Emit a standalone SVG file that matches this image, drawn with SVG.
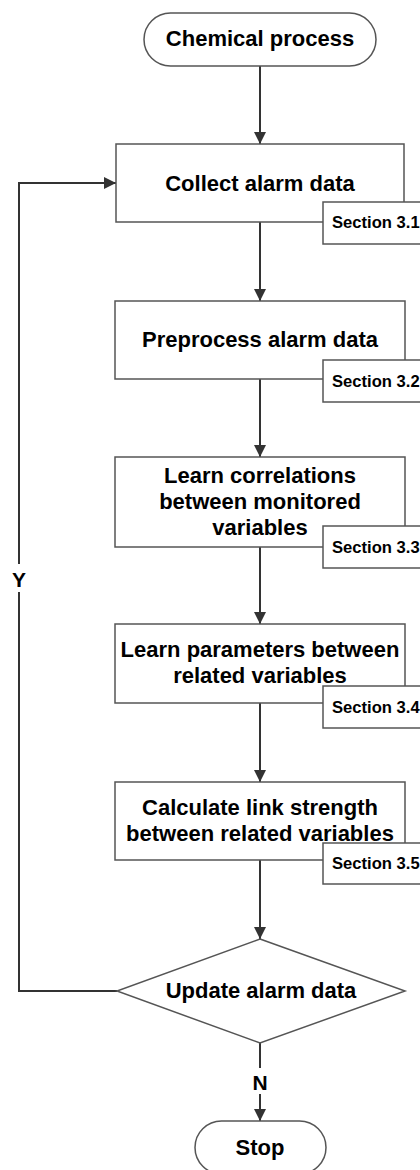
<svg xmlns="http://www.w3.org/2000/svg" width="420" height="1170" viewBox="0 0 420 1170">
<style>
.box{fill:#fff;stroke:#555;stroke-width:1.5}
.t{font-family:"Liberation Sans",Arial,sans-serif;font-weight:bold;font-size:22px;fill:#000;text-anchor:middle}
.s{font-family:"Liberation Sans",Arial,sans-serif;font-weight:bold;font-size:16.6px;fill:#000}
.c{fill:none;stroke:#333;stroke-width:2}
.lbl{font-family:"Liberation Sans",Arial,sans-serif;font-weight:bold;font-size:21px;fill:#000;text-anchor:middle}
</style>
<defs>
<marker id="ah" markerWidth="12" markerHeight="12" refX="12" refY="6" orient="auto" markerUnits="userSpaceOnUse">
<path d="M0,0 L12,6 L0,12 Z" fill="#333"/>
</marker>
</defs>
<rect width="420" height="1170" fill="#fff"/>
<g id="connectors">
<line class="c" x1="260" y1="66" x2="260" y2="144" marker-end="url(#ah)"/>
<line class="c" x1="260" y1="222" x2="260" y2="301" marker-end="url(#ah)"/>
<line class="c" x1="260" y1="379" x2="260" y2="457" marker-end="url(#ah)"/>
<line class="c" x1="260" y1="547" x2="260" y2="624" marker-end="url(#ah)"/>
<line class="c" x1="260" y1="703" x2="260" y2="782" marker-end="url(#ah)"/>
<line class="c" x1="260" y1="860" x2="260" y2="939" marker-end="url(#ah)"/>
<polyline class="c" points="117,991 19,991 19,592"/>
<polyline class="c" points="19,564 19,183 116,183" marker-end="url(#ah)"/>
<text class="lbl" x="19" y="587">Y</text>
<line class="c" x1="260" y1="1043" x2="260" y2="1068"/>
<line class="c" x1="260" y1="1094" x2="260" y2="1121" marker-end="url(#ah)"/>
<text class="lbl" x="260" y="1090">N</text>
</g>
<g id="start">
<rect class="box" x="144" y="13" width="232" height="53" rx="26.5"/>
<text class="t" x="260" y="46">Chemical process</text>
</g>
<g id="collect">
<rect class="box" x="116" y="144" width="288" height="78"/>
<text class="t" x="260" y="191">Collect alarm data</text>
</g>
<g id="sec31">
<rect class="box" x="323" y="202" width="110" height="42"/>
<text class="s" x="332" y="228">Section 3.1</text>
</g>
<g id="preprocess">
<rect class="box" x="115" y="301" width="290" height="78"/>
<text class="t" x="260" y="347">Preprocess alarm data</text>
</g>
<g id="sec32">
<rect class="box" x="323" y="360" width="110" height="42"/>
<text class="s" x="332" y="386.5">Section 3.2</text>
</g>
<g id="correlations">
<rect class="box" x="115" y="457" width="290" height="90"/>
<text class="t" x="260" y="483">Learn correlations</text>
<text class="t" x="260" y="509">between monitored</text>
<text class="t" x="260" y="535">variables</text>
</g>
<g id="sec33">
<rect class="box" x="323" y="526" width="110" height="42"/>
<text class="s" x="332" y="552.5">Section 3.3</text>
</g>
<g id="parameters">
<rect class="box" x="115" y="624" width="290" height="79"/>
<text class="t" x="260" y="657">Learn parameters between</text>
<text class="t" x="260" y="683">related variables</text>
</g>
<g id="sec34">
<rect class="box" x="323" y="686" width="110" height="42"/>
<text class="s" x="332" y="712.5">Section 3.4</text>
</g>
<g id="linkstrength">
<rect class="box" x="115" y="782" width="290" height="78"/>
<text class="t" x="260" y="815">Calculate link strength</text>
<text class="t" x="260" y="841">between related variables</text>
</g>
<g id="sec35">
<rect class="box" x="323" y="843" width="110" height="41"/>
<text class="s" x="332" y="869">Section 3.5</text>
</g>
<g id="update">
<polygon class="box" points="260,939 405,991 260,1043 117,991"/>
<text class="t" x="261" y="998">Update alarm data</text>
</g>
<g id="stop">
<rect class="box" x="195" y="1121" width="131" height="53" rx="26.5"/>
<text class="t" x="260" y="1155">Stop</text>
</g>
</svg>
